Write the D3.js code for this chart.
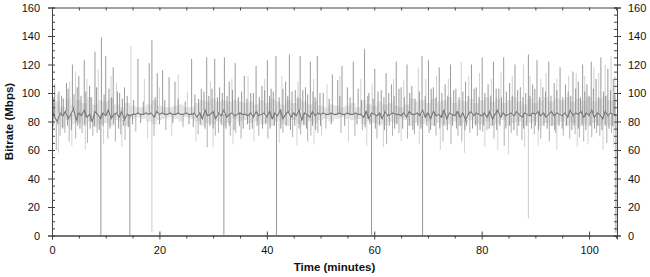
<!DOCTYPE html>
<html>
<head>
<meta charset="utf-8">
<script src="https://cdn.jsdelivr.net/npm/d3@7"></script>
<style>
  body { margin: 0; background: #fff; }
  svg { display: block; font-family: "Liberation Sans", Arial, sans-serif; }
</style>
</head>
<body>
<svg id="chart" width="650" height="277"></svg>
<script>
// ---- data (Mbps) ----
// main trace, one value every half minute from t = 0 to t = 105
const TRACE_STEP = 0.5;
const traceValues = [
  88, 83, 80, 86, 84, 87, 82, 85, 89, 81, 86, 84, 88, 83, 85, 80, 87, 85, 82, 86,
  84, 88, 82, 85, 86, 83, 87, 81, 85, 84, 85, 85, 86, 85, 85, 86, 85, 86, 83, 87,
  85, 86, 85, 85, 86, 85, 85, 86, 85, 85, 86, 85, 85, 86, 83, 86, 82, 88, 84, 85,
  87, 82, 86, 84, 88, 83, 85, 86, 84, 85, 86, 85, 85, 84, 86, 83, 87, 84, 85, 86,
  83, 87, 82, 86, 84, 88, 82, 85, 87, 83, 86, 84, 88, 81, 86, 85, 83, 87, 84, 86,
  85, 86, 85, 85, 86, 85, 85, 86, 85, 85, 86, 85, 85, 86, 85, 85, 83, 87, 82, 86,
  85, 84, 86, 82, 87, 84, 85, 86, 85, 85, 84, 86, 83, 87, 85, 85, 86, 84, 88, 83,
  86, 82, 87, 84, 85, 83, 88, 82, 86, 85, 84, 87, 83, 86, 81, 85, 87, 84, 86, 85,
  84, 86, 83, 87, 82, 85, 88, 83, 86, 84, 85, 86, 84, 87, 85, 83, 86, 85, 84, 86,
  85, 87, 84, 86, 83, 85, 87, 84, 86, 85, 84, 86, 83, 88, 84, 86, 85, 87, 83, 86,
  84, 88, 83, 86, 85, 82, 87, 84, 86, 85, 84
];

// light background spread, one value per minute
const bandHigh = [
  92, 94, 90, 96, 91, 95, 93, 97, 92, 95,
  94, 96, 92, 90, 93, 91, 90, 90, 92, 95,
  91, 90, 90, 91, 92, 90, 90, 93, 95, 94,
  96, 94, 95, 94, 95, 94, 93, 94, 92, 95,
  93, 96, 94, 92, 95, 93, 96, 94, 92, 94,
  91, 90, 92, 91, 90, 91, 93, 90, 95, 92,
  91, 94, 92, 93, 91, 90, 92, 96, 94, 95,
  93, 96, 94, 95, 97, 93, 95, 94, 96, 93,
  95, 97, 94, 96, 93, 95, 97, 94, 92, 96,
  93, 95, 97, 94, 96, 95, 97, 94, 96, 95,
  97, 94, 96, 98, 95, 97
];
const bandLow = [
  77, 80, 76, 81, 78, 79, 77, 80, 76, 78,
  79, 77, 81, 80, 77, 82, 83, 82, 80, 78,
  81, 82, 83, 82, 80, 83, 82, 80, 77, 79,
  78, 80, 77, 79, 82, 80, 81, 79, 80, 78,
  79, 77, 80, 78, 77, 81, 78, 77, 80, 79,
  81, 82, 80, 82, 83, 82, 81, 82, 78, 80,
  79, 78, 77, 80, 79, 82, 81, 77, 79, 78,
  80, 77, 79, 77, 78, 80, 77, 79, 81, 78,
  78, 80, 77, 78, 81, 77, 79, 80, 77, 79,
  80, 77, 79, 77, 78, 80, 77, 79, 77, 78,
  77, 79, 77, 78, 77, 76
];

// tall peaks of the main trace [minute, Mbps]
const tracePeaks = [
  [0.5,106],[1.8,98],[2.7,107],[3.8,120],[5.0,112],[6.0,123],[7.0,105],[8.0,129],[9.2,139],
  [10.0,126],[11.4,118],[12.6,100],[13.5,104],[16.0,124],[18.1,121],[18.6,137],[19.6,114],
  [20.6,116],[21.8,111],[22.9,108],[26.0,124],[27.8,103],[28.8,125],[30.3,124],[31.2,104],
  [32.1,125],[33.0,108],[34.1,121],[35.8,112],[37.0,100],[38.0,119],[39.1,105],[40.1,123],
  [40.8,103],[41.7,126],[43.5,108],[44.2,127],[45.3,102],[46.2,126],[47.2,104],[48.1,122],
  [49.4,126],[50.5,100],[52.2,113],[53.2,109],[54.0,119],[55.0,104],[56.1,122],[57.0,103],
  [58.2,131],[59.0,100],[60.1,117],[61.3,102],[62.2,114],[63.2,106],[64.1,122],[65.0,104],
  [66.1,120],[67.0,105],[68.9,126],[70.1,123],[71.0,104],[72.1,118],[73.2,106],[74.2,120],
  [75.2,103],[77.0,108],[78.1,120],[79.0,104],[80.1,125],[81.2,106],[82.2,122],[83.2,103],
  [84.1,125],[85.2,107],[86.2,120],[87.2,104],[88.7,127],[89.5,106],[90.3,123],[91.4,104],
  [92.5,122],[93.5,107],[94.6,118],[95.6,106],[97.0,115],[98.0,108],[98.8,120],[99.6,106],
  [100.4,122],[101.3,110],[102.2,125],[103.5,117],[104.5,110]
];
// short peaks of the main trace [minute, Mbps]
const shortPeaks = [
  [0.3,97],[1.3,101],[2.1,96],[3.0,103],[4.1,99],[4.7,104],[5.4,98],[6.3,101],[7.3,97],[8.3,104],
  [9.7,99],[10.6,103],[11.1,97],[12.2,101],[13.1,96],[14.0,98],[15.2,95],[17.0,94],[19.2,97],
  [21.0,95],[23.5,96],[24.8,94],[26.6,99],[27.3,96],[28.3,101],[29.2,98],[29.8,103],[30.8,97],
  [31.7,100],[32.6,98],[33.6,102],[34.7,97],[35.3,101],[36.3,96],[37.5,100],[38.6,97],[39.6,102],
  [40.5,98],[41.2,101],[42.3,97],[43.0,103],[43.9,98],[44.7,101],[45.8,97],[46.7,102],[47.6,99],
  [48.6,101],[49.0,97],[49.9,100],[51.6,96],[53.6,98],[55.5,97],[57.6,95],[58.8,98],[59.8,96],
  [60.7,101],[61.8,97],[62.7,100],[63.7,98],[64.6,103],[65.6,97],[66.6,100],[67.6,96],[68.4,101],
  [69.5,98],[70.6,103],[71.5,97],[72.6,100],[73.7,98],[74.8,102],[75.8,97],[76.5,101],[77.5,98],
  [78.6,103],[79.5,97],[80.6,100],[81.7,98],[82.7,103],[83.7,97],[84.6,101],[85.7,98],[86.7,102],
  [87.7,97],[88.2,100],[89.0,98],[89.9,103],[90.8,97],[91.9,101],[92.9,98],[94.0,102],[95.1,97],
  [96.1,101],[96.6,98],[97.5,103],[98.4,97],[99.2,101],[100.0,98],[100.8,103],[101.8,97],
  [102.7,101],[103.1,98],[104.0,102],[104.8,99]
];
// deep dips of the main trace [minute, Mbps]
const traceDips = [
  [0.8,60],[1.5,70],[2.4,72],[3.2,66],[4.4,68],[5.6,72],[6.6,65],[7.6,70],[8.4,72],[10.4,68],
  [11.8,66],[12.8,71],[13.6,67],[15.6,73],[19.0,70],[21.2,74],[24.4,76],[27.2,71],[28.9,62],
  [30.4,70],[31.0,72],[33.2,70],[34.2,72],[35.2,68],[36.8,74],[38.5,70],[40.2,68],[43.0,72],
  [44.8,69],[46.3,71],[47.6,66],[48.2,70],[49.5,72],[51.0,75],[53.8,72],[56.4,70],[57.8,74],
  [60.5,68],[62.3,64],[63.4,70],[64.6,72],[66.2,68],[67.5,71],[70.2,72],[71.5,70],[72.8,66],
  [74.3,64],[75.6,70],[76.3,66],[77.8,72],[79.2,70],[80.2,73],[81.0,74],[82.3,68],[84.2,63],
  [85.5,72],[86.6,70],[87.5,67],[89.8,71],[91.0,68],[92.6,66],[93.8,72],[95.2,70],[96.4,68],
  [97.4,71],[98.2,69],[99.0,66],[100.5,69],[101.4,72],[102.0,70],[103.3,65],[104.2,72]
];
// short dips of the main trace [minute, Mbps]
const shortDips = [
  [0.2,76],[1.1,78],[2.0,75],[2.9,77],[3.6,74],[4.8,77],[5.2,75],[6.1,78],[7.1,75],[7.9,77],
  [8.8,74],[9.5,77],[10.8,75],[11.5,78],[12.4,75],[13.3,77],[14.2,76],[15.0,78],[16.5,79],
  [20.0,78],[22.5,79],[25.5,78],[26.3,76],[27.6,78],[28.5,75],[29.4,77],[30.0,75],[31.5,78],
  [32.4,75],[33.0,77],[33.9,74],[34.9,77],[35.6,75],[36.4,78],[37.3,75],[38.2,77],[39.2,75],
  [39.8,78],[40.6,75],[41.4,77],[42.6,75],[43.6,77],[44.4,74],[45.2,77],[46.0,75],[46.9,78],
  [47.4,75],[48.5,77],[49.1,74],[50.0,77],[52.0,78],[54.5,77],[56.8,78],[58.3,76],[59.2,78],
  [60.2,75],[61.0,77],[61.9,74],[62.8,77],[63.8,75],[64.2,78],[65.3,75],[66.5,77],[67.2,74],
  [68.1,77],[68.7,75],[69.8,77],[70.5,74],[71.2,77],[72.2,75],[73.0,78],[73.6,74],[74.6,77],
  [75.3,75],[76.0,77],[76.9,74],[77.2,77],[78.3,75],[78.9,77],[79.7,74],[80.4,77],[81.4,75],
  [82.0,77],[82.8,74],[83.4,77],[84.5,75],[85.2,77],[86.0,74],[86.9,77],[87.8,75],[88.4,77],
  [89.3,75],[90.0,77],[90.6,74],[91.6,77],[92.2,75],[93.1,77],[93.6,74],[94.4,77],[95.0,75],
  [95.8,77],[96.8,74],[97.2,77],[98.0,75],[98.7,77],[99.4,74],[100.2,77],[101.0,75],[101.6,77],
  [102.4,74],[103.0,77],[103.7,75],[104.4,77]
];
// light trace excursions [minute, Mbps]
const lightPeaks = [
  [1.0,99],[3.3,108],[4.4,115],[6.5,110],[8.6,117],[11.0,112],[12.0,107],[14.7,133],[17.2,110],
  [20.0,104],[23.5,113],[25.2,101],[29.5,108],[33.5,110],[36.5,112],[39.6,110],[42.8,112],
  [45.8,108],[48.7,110],[51.2,106],[53.6,112],[57.5,110],[59.6,106],[63.6,110],[65.5,109],
  [68.2,118],[69.6,110],[71.6,112],[73.8,110],[76.2,122],[77.6,112],[79.6,114],[81.8,110],
  [83.6,115],[85.7,112],[87.8,120],[89.0,112],[91.0,110],[92.0,114],[94.0,110],[96.2,112],
  [97.6,114],[99.2,112],[100.9,118],[101.8,114],[103.0,120],[104.1,126],[104.8,112]
];
const lightDips = [
  [1.2,58],[3.7,63],[6.2,60],[9.6,64],[13.0,62],[17.8,68],[22.3,70],[26.8,66],[30.0,62],
  [33.7,64],[37.6,66],[42.3,65],[45.6,63],[48.8,64],[50.2,70],[55.2,66],[58.6,63],[61.7,62],
  [65.0,66],[68.4,64],[72.3,60],[76.8,58],[80.6,62],[83.0,60],[85.0,57],[88.0,62],[90.5,63],
  [94.0,60],[97.8,62],[99.8,64],[102.6,60],[104.6,63]
];
// dropouts [minute, lowest Mbps, light?]
const dropouts = [
  [9.1,0,false],[14.5,0,false],[18.6,2,true],[32.0,0,false],[41.8,0,false],
  [59.5,0,false],[69.0,0,false],[88.7,12,true],[105.0,2,false]
];

const xMajor = [0, 20, 40, 60, 80, 100];
const yMajor = [0, 20, 40, 60, 80, 100, 120, 140, 160];

// ---- layout ----
const svg = d3.select('#chart');
const m = {left: 52, right: 617, top: 7.5, bottom: 235.5};

const x = d3.scaleLinear().domain([0, 105.2]).range([m.left, m.right]);
const y = d3.scaleLinear().domain([0, 160]).range([m.bottom, m.top]);

svg.append('clipPath').attr('id', 'plotclip')
  .append('rect')
  .attr('x', m.left).attr('y', m.top)
  .attr('width', m.right - m.left).attr('height', m.bottom - m.top);

const gData = svg.append('g').attr('clip-path', 'url(#plotclip)');

// base value of the main trace at any minute
const baseAt = t => {
  const i = Math.min(traceValues.length - 1, Math.max(0, Math.round(t / TRACE_STEP)));
  return traceValues[i];
};

// light band
const band = bandHigh.map((h, i) => ({t: i, hi: h, lo: bandLow[i]}));
gData.append('path')
  .datum(band)
  .attr('d', d3.area().curve(d3.curveStep).x(d => x(d.t)).y0(d => y(d.lo)).y1(d => y(d.hi)))
  .style('fill', '#e4e4e4');

// vertical needles from the trace out to each excursion
function needles(cls, data, color, width) {
  gData.selectAll('line.' + cls)
    .data(data)
    .join('line')
    .attr('class', cls)
    .attr('x1', d => x(d[0])).attr('x2', d => x(d[0]))
    .attr('y1', d => y(baseAt(d[0]))).attr('y2', d => y(d[1]))
    .style('stroke', color)
    .style('stroke-width', width);
}
needles('lpk', lightPeaks, '#d0d0d0', 1);
needles('ldp', lightDips, '#d4d4d4', 1);

// dropouts to zero
gData.selectAll('line.drop')
  .data(dropouts)
  .join('line')
  .attr('class', 'drop')
  .attr('x1', d => x(d[0])).attr('x2', d => x(d[0]))
  .attr('y1', y(85)).attr('y2', d => y(d[1]))
  .style('stroke', d => d[2] ? '#c4c4c4' : '#8c8c8c')
  .style('stroke-width', 0.9);

needles('tdp', traceDips, '#a8a8a8', 0.9);
needles('sdp', shortDips, '#8c8c8c', 0.9);
needles('spk', shortPeaks, '#8c8c8c', 0.9);
needles('tpk', tracePeaks, '#8e8e8e', 0.9);

// main trace
gData.append('path')
  .datum(traceValues.map((v, i) => [i * TRACE_STEP, v]))
  .attr('d', d3.line().x(d => x(d[0])).y(d => y(d[1])))
  .style('fill', 'none')
  .style('stroke', '#777')
  .style('stroke-width', 1.1);

// ---- axes ----
const axisColor = '#444';
const minorX = d3.range(0, 106, 5).filter(v => v % 20 !== 0);
const minorY = d3.range(0, 161, 5).filter(v => v % 20 !== 0);

function styleAxis(g) {
  g.select('.domain').attr('stroke', axisColor);
  g.selectAll('.tick line').attr('stroke', axisColor);
  g.selectAll('.tick text').attr('fill', '#111').style('font-size', '11px')
    .style('font-family', '"Liberation Sans", Arial, sans-serif');
}

// bottom
svg.append('g').attr('transform', `translate(0,${m.bottom})`)
  .call(d3.axisBottom(x).tickValues(xMajor).tickSize(4).tickPadding(7).tickFormat(d3.format('d')))
  .call(styleAxis)
  .call(g => g.selectAll('.tick line').attr('y1', -4));
svg.append('g').attr('transform', `translate(0,${m.bottom})`)
  .call(d3.axisBottom(x).tickValues(minorX).tickSize(3).tickFormat(''))
  .call(styleAxis);
// top
svg.append('g').attr('transform', `translate(0,${m.top})`)
  .call(d3.axisTop(x).tickValues(xMajor.concat(minorX)).tickSize(-3).tickFormat(''))
  .call(styleAxis);
// left
svg.append('g').attr('transform', `translate(${m.left},0)`)
  .call(d3.axisLeft(y).tickValues(yMajor).tickSize(4).tickPadding(8).tickFormat(d3.format('d')))
  .call(styleAxis)
  .call(g => g.selectAll('.tick line').attr('x1', 3));
svg.append('g').attr('transform', `translate(${m.left},0)`)
  .call(d3.axisLeft(y).tickValues(minorY).tickSize(-3).tickFormat(''))
  .call(styleAxis);
// right
svg.append('g').attr('transform', `translate(${m.right},0)`)
  .call(d3.axisRight(y).tickValues(yMajor).tickSize(4).tickPadding(7).tickFormat(d3.format('d')))
  .call(styleAxis)
  .call(g => g.selectAll('.tick line').attr('x1', -3));
svg.append('g').attr('transform', `translate(${m.right},0)`)
  .call(d3.axisRight(y).tickValues(minorY).tickSize(-3).tickFormat(''))
  .call(styleAxis);

// titles
svg.append('text')
  .attr('x', (m.left + m.right) / 2).attr('y', 271)
  .attr('text-anchor', 'middle')
  .style('font-size', '11.5px').style('font-weight', 'bold').style('fill', '#111')
  .text('Time (minutes)');
svg.append('text')
  .attr('transform', `translate(13,${(m.top + m.bottom) / 2}) rotate(-90)`)
  .attr('text-anchor', 'middle')
  .style('font-size', '11.5px').style('font-weight', 'bold').style('fill', '#111')
  .text('Bitrate (Mbps)');
</script>
</body>
</html>
